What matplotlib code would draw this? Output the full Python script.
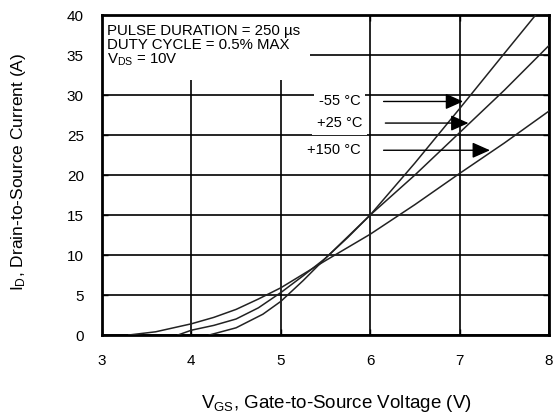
import matplotlib.pyplot as plt
from matplotlib.patches import Rectangle

# transfer characteristics
vgs_m55 = [4.2, 4.5, 4.8, 5.0, 5.25, 5.5, 5.75, 6.0, 6.5, 7.0, 7.5, 7.85]
id_m55 = [0.0, 0.9, 2.6, 4.2, 6.8, 9.6, 12.3, 15.0, 21.5, 28.3, 35.2, 40.0]

vgs_p25 = [3.85, 4.0, 4.25, 4.5, 4.75, 5.0, 5.25, 5.5, 5.75, 6.0, 6.5, 7.0, 7.5, 8.0]
id_p25 = [0.0, 0.6, 1.2, 2.0, 3.4, 5.3, 7.4, 9.6, 12.2, 15.0, 20.0, 25.3, 30.6, 36.2]

vgs_p150 = [3.3, 3.6, 4.0, 4.25, 4.5, 4.75, 5.0, 5.5, 6.0, 6.5, 7.0, 7.5, 8.0]
id_p150 = [0.0, 0.4, 1.4, 2.2, 3.2, 4.5, 5.9, 9.3, 12.6, 16.3, 20.2, 24.0, 28.0]

x_ticks = [3, 4, 5, 6, 7, 8]
y_ticks = [0, 5, 10, 15, 20, 25, 30, 35, 40]

labels = ['-55 \u00b0C', '+25 \u00b0C', '+150 \u00b0C']
label_y = [29.2, 26.5, 23.1]
arrow_start = [6.15, 6.17, 6.15]
arrow_tip = [7.04, 7.1, 7.34]

plt.rcParams['font.family'] = ['Liberation Sans', 'DejaVu Sans']

fig = plt.figure(figsize=(5.53, 4.16), dpi=100)
ax = fig.add_axes([0.1844, 0.1947, 0.8083, 0.769])

ax.set_xlim(3, 8)
ax.set_ylim(0, 40)
ax.set_xticks(x_ticks)
ax.set_yticks(y_ticks)
ax.grid(True, color='black', linewidth=1.2, zorder=1)
ax.set_axisbelow(True)
ax.tick_params(direction='in', length=4, width=1, top=True, right=True,
               labelsize=11, pad=13)
ax.tick_params(axis='x', pad=14)
for s in ax.spines.values():
    s.set_linewidth(2)

# white area behind the test conditions
ax.add_patch(Rectangle((3, 31.9), 2.33, 8.1, facecolor='white',
                       edgecolor='none', zorder=2))

ax.plot(vgs_m55, id_m55, color='#222222', lw=1.1, zorder=3)
ax.plot(vgs_p25, id_p25, color='#222222', lw=1.1, zorder=3)
ax.plot(vgs_p150, id_p150, color='#222222', lw=1.1, zorder=3)

for lab, yy, x0, x1 in zip(labels, label_y, arrow_start, arrow_tip):
    ax.text(x0 - 0.26, yy, lab, ha='right', va='center', fontsize=10.5,
            zorder=4, bbox=dict(facecolor='white', edgecolor='none', pad=3.5))
    ax.annotate('', xy=(x1, yy), xytext=(x0, yy), zorder=4,
                arrowprops=dict(arrowstyle='-|>,head_length=0.9,head_width=0.4',
                                color='black', lw=1, mutation_scale=12,
                                shrinkA=0, shrinkB=0))

ax.text(0.012, 0.972, 'PULSE DURATION = 250 \u00b5s\nDUTY CYCLE = 0.5% MAX\n'
        r'V$\mathregular{_{DS}}$ = 10V', transform=ax.transAxes, ha='left',
        va='top', fontsize=10.8, linespacing=1.0, zorder=5)

ax.set_xlabel(r'V$\mathregular{_{GS}}$, Gate-to-Source Voltage (V)',
              fontsize=13.5)
ax.xaxis.set_label_coords(0.525, -0.18)
ax.set_ylabel(r'I$\mathregular{_D}$, Drain-to-Source Current (A)',
              fontsize=12.5)
ax.yaxis.set_label_coords(-0.166, 0.51)

fig.savefig('out.png', dpi=100)
